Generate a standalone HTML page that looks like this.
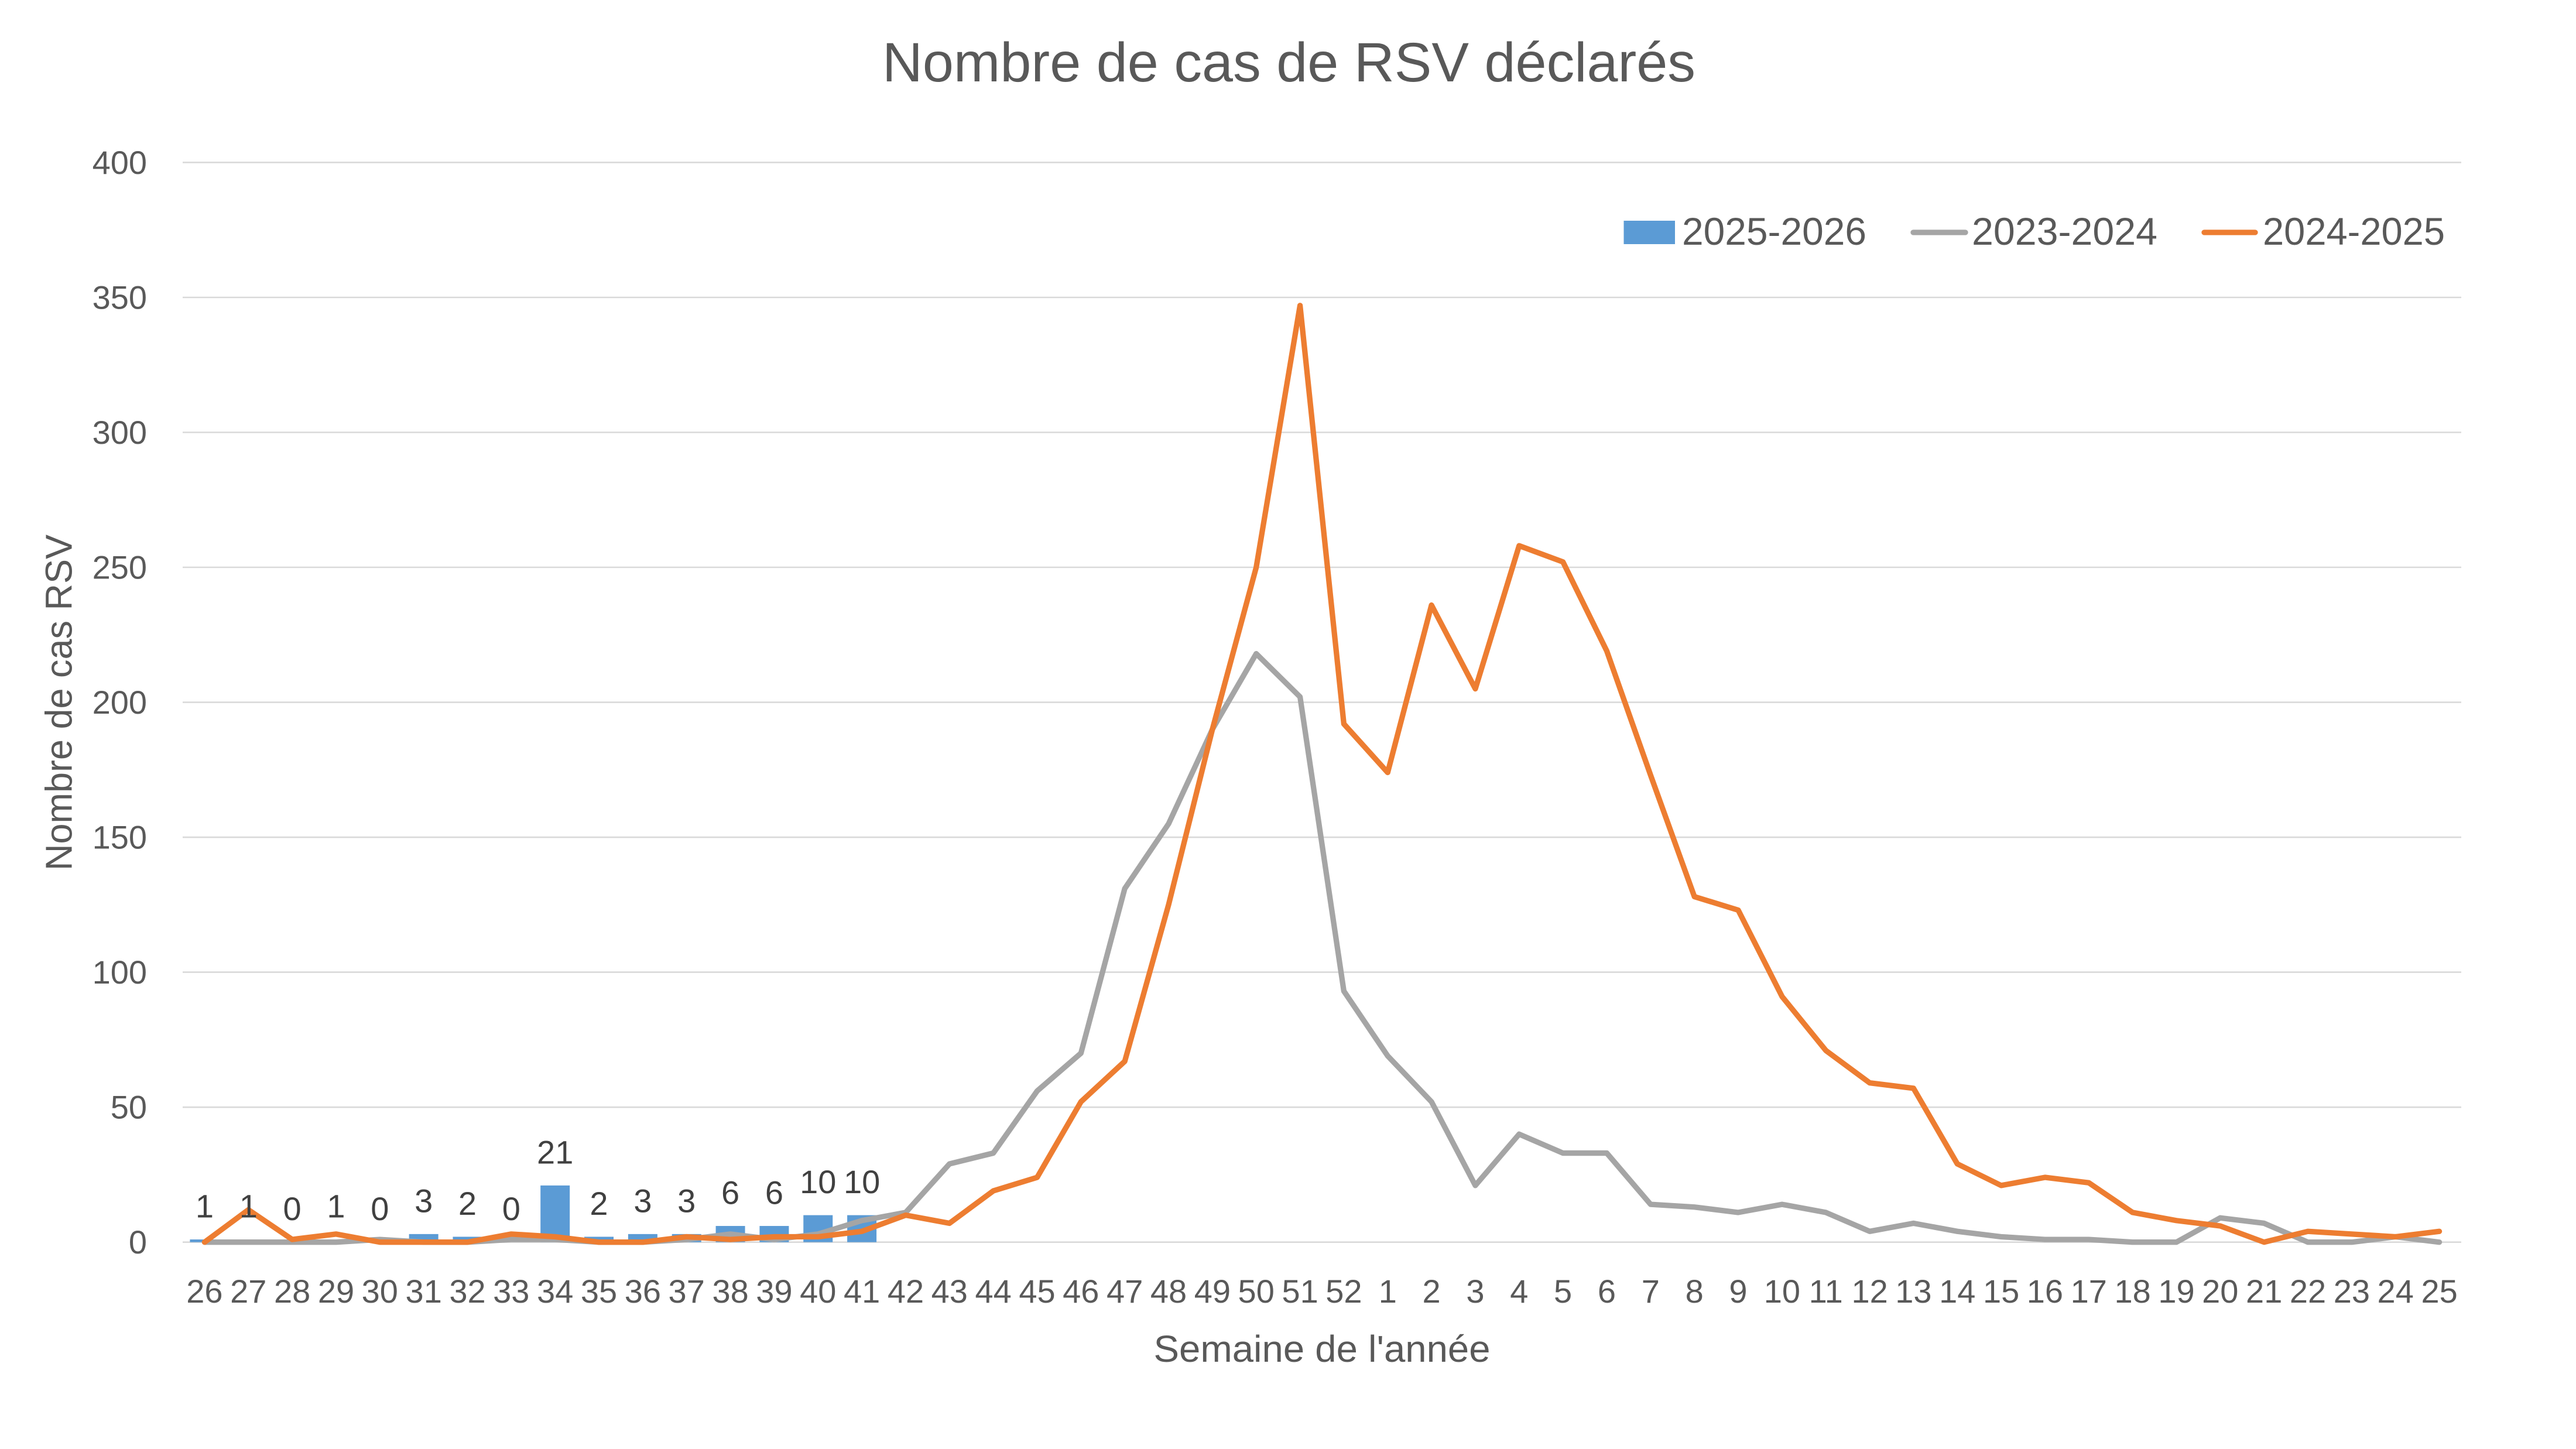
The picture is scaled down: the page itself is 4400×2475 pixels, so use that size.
<!DOCTYPE html>
<html>
<head>
<meta charset="utf-8">
<style>
  html, body { margin: 0; padding: 0; background: #ffffff; }
  svg { display: block; }
  text { font-family: "Liberation Sans", Arial, sans-serif; }
</style>
</head>
<body>
<svg width="4400" height="2475" viewBox="0 0 4400 2475" xmlns="http://www.w3.org/2000/svg">
  <rect x="0" y="0" width="4400" height="2475" fill="#ffffff"/>

  <!-- Title -->
  <text x="1507" y="139" font-size="95" fill="#595959" textLength="1389" lengthAdjust="spacingAndGlyphs">Nombre de cas de RSV déclarés</text>

  <!-- Gridlines -->
  <g stroke="#D9D9D9" stroke-width="2.6">
    <line x1="312" y1="277.4" x2="4204" y2="277.4"/>
    <line x1="312" y1="508.0" x2="4204" y2="508.0"/>
    <line x1="312" y1="738.5" x2="4204" y2="738.5"/>
    <line x1="312" y1="969.0" x2="4204" y2="969.0"/>
    <line x1="312" y1="1199.6" x2="4204" y2="1199.6"/>
    <line x1="312" y1="1430.1" x2="4204" y2="1430.1"/>
    <line x1="312" y1="1660.6" x2="4204" y2="1660.6"/>
    <line x1="312" y1="1891.2" x2="4204" y2="1891.2"/>
    <line x1="312" y1="2121.7" x2="4204" y2="2121.7"/>
  </g>

  <!-- Y tick labels -->
  <g font-size="56" fill="#595959" text-anchor="end">
    <text x="251" y="297">400</text>
    <text x="251" y="527.5">350</text>
    <text x="251" y="758">300</text>
    <text x="251" y="988.5">250</text>
    <text x="251" y="1219">200</text>
    <text x="251" y="1449.6">150</text>
    <text x="251" y="1680.1">100</text>
    <text x="251" y="1910.7">50</text>
    <text x="251" y="2141.2">0</text>
  </g>

  <!-- Y axis title -->
  <text transform="translate(122.7,1200) rotate(-90)" text-anchor="middle" font-size="64" fill="#595959" textLength="574" lengthAdjust="spacingAndGlyphs">Nombre de cas RSV</text>

  <!-- Data (scaled group): x = category index + 0.5, y = value -->
  <g transform="translate(312,2121.7) scale(74.846,-4.6106)">
    <g fill="#5B9BD5">
      <rect x="0.166" y="0" width="0.668" height="1"/>
      <rect x="1.166" y="0" width="0.668" height="1"/>
      <rect x="3.166" y="0" width="0.668" height="1"/>
      <rect x="5.166" y="0" width="0.668" height="3"/>
      <rect x="6.166" y="0" width="0.668" height="2"/>
      <rect x="8.166" y="0" width="0.668" height="21"/>
      <rect x="9.166" y="0" width="0.668" height="2"/>
      <rect x="10.166" y="0" width="0.668" height="3"/>
      <rect x="11.166" y="0" width="0.668" height="3"/>
      <rect x="12.166" y="0" width="0.668" height="6"/>
      <rect x="13.166" y="0" width="0.668" height="6"/>
      <rect x="14.166" y="0" width="0.668" height="10"/>
      <rect x="15.166" y="0" width="0.668" height="10"/>
    </g>
    <polyline fill="none" stroke="#A5A5A5" stroke-width="9.3" stroke-linejoin="round" stroke-linecap="round" vector-effect="non-scaling-stroke"
      points="0.5,0 1.5,0 2.5,0 3.5,0 4.5,1 5.5,0 6.5,0 7.5,1 8.5,1 9.5,0 10.5,0 11.5,1 12.5,3 13.5,1 14.5,3 15.5,8 16.5,11 17.5,29 18.5,33 19.5,56 20.5,70 21.5,131 22.5,155 23.5,190 24.5,218 25.5,202 26.5,93 27.5,69 28.5,52 29.5,21 30.5,40 31.5,33 32.5,33 33.5,14 34.5,13 35.5,11 36.5,14 37.5,11 38.5,4 39.5,7 40.5,4 41.5,2 42.5,1 43.5,1 44.5,0 45.5,0 46.5,9 47.5,7 48.5,0 49.5,0 50.5,2 51.5,0"/>
    <polyline fill="none" stroke="#ED7D31" stroke-width="9.3" stroke-linejoin="round" stroke-linecap="round" vector-effect="non-scaling-stroke"
      points="0.5,0 1.5,12 2.5,1 3.5,3 4.5,0 5.5,0 6.5,0 7.5,3 8.5,2 9.5,0 10.5,0 11.5,2 12.5,1 13.5,2 14.5,2 15.5,4 16.5,10 17.5,7 18.5,19 19.5,24 20.5,52 21.5,67 22.5,125 23.5,190 24.5,250 25.5,347 26.5,192 27.5,174 28.5,236 29.5,205 30.5,258 31.5,252 32.5,219 33.5,173 34.5,128 35.5,123 36.5,91 37.5,71 38.5,59 39.5,57 40.5,29 41.5,21 42.5,24 43.5,22 44.5,11 45.5,8 46.5,6 47.5,0 48.5,4 49.5,3 50.5,2 51.5,4"/>
  </g>

  <!-- Bar data labels -->
  <g font-size="56" fill="#404040" text-anchor="middle">
    <text x="349.4" y="2079.6">1</text>
    <text x="424.3" y="2079.6">1</text>
    <text x="499.1" y="2084.2">0</text>
    <text x="574.0" y="2079.6">1</text>
    <text x="648.8" y="2084.2">0</text>
    <text x="723.7" y="2070.4">3</text>
    <text x="798.5" y="2075.0">2</text>
    <text x="873.3" y="2084.2">0</text>
    <text x="948.2" y="1987.4">21</text>
    <text x="1023.0" y="2075.0">2</text>
    <text x="1097.9" y="2070.4">3</text>
    <text x="1172.7" y="2070.4">3</text>
    <text x="1247.6" y="2056.5">6</text>
    <text x="1322.4" y="2056.5">6</text>
    <text x="1397.3" y="2038.1">10</text>
    <text x="1472.1" y="2038.1">10</text>
  </g>

  <!-- X tick labels -->
  <g font-size="56" fill="#595959" text-anchor="middle">
    <text x="349.4" y="2225">26</text>
    <text x="424.3" y="2225">27</text>
    <text x="499.1" y="2225">28</text>
    <text x="574.0" y="2225">29</text>
    <text x="648.8" y="2225">30</text>
    <text x="723.7" y="2225">31</text>
    <text x="798.5" y="2225">32</text>
    <text x="873.3" y="2225">33</text>
    <text x="948.2" y="2225">34</text>
    <text x="1023.0" y="2225">35</text>
    <text x="1097.9" y="2225">36</text>
    <text x="1172.7" y="2225">37</text>
    <text x="1247.6" y="2225">38</text>
    <text x="1322.4" y="2225">39</text>
    <text x="1397.3" y="2225">40</text>
    <text x="1472.1" y="2225">41</text>
    <text x="1547.0" y="2225">42</text>
    <text x="1621.8" y="2225">43</text>
    <text x="1696.6" y="2225">44</text>
    <text x="1771.5" y="2225">45</text>
    <text x="1846.3" y="2225">46</text>
    <text x="1921.2" y="2225">47</text>
    <text x="1996.0" y="2225">48</text>
    <text x="2070.9" y="2225">49</text>
    <text x="2145.7" y="2225">50</text>
    <text x="2220.6" y="2225">51</text>
    <text x="2295.4" y="2225">52</text>
    <text x="2370.3" y="2225">1</text>
    <text x="2445.1" y="2225">2</text>
    <text x="2519.9" y="2225">3</text>
    <text x="2594.8" y="2225">4</text>
    <text x="2669.6" y="2225">5</text>
    <text x="2744.5" y="2225">6</text>
    <text x="2819.3" y="2225">7</text>
    <text x="2894.2" y="2225">8</text>
    <text x="2969.0" y="2225">9</text>
    <text x="3043.9" y="2225">10</text>
    <text x="3118.7" y="2225">11</text>
    <text x="3193.6" y="2225">12</text>
    <text x="3268.4" y="2225">13</text>
    <text x="3343.3" y="2225">14</text>
    <text x="3418.1" y="2225">15</text>
    <text x="3492.9" y="2225">16</text>
    <text x="3567.8" y="2225">17</text>
    <text x="3642.6" y="2225">18</text>
    <text x="3717.5" y="2225">19</text>
    <text x="3792.3" y="2225">20</text>
    <text x="3867.2" y="2225">21</text>
    <text x="3942.0" y="2225">22</text>
    <text x="4016.9" y="2225">23</text>
    <text x="4091.7" y="2225">24</text>
    <text x="4166.6" y="2225">25</text>
  </g>

  <!-- X axis title -->
  <text x="2258" y="2326" text-anchor="middle" font-size="64" fill="#595959" textLength="575" lengthAdjust="spacingAndGlyphs">Semaine de l'année</text>

  <!-- Legend -->
  <rect x="2773.5" y="377" width="87.5" height="40" fill="#5B9BD5"/>
  <text x="2873" y="418" font-size="66" fill="#595959" textLength="315" lengthAdjust="spacingAndGlyphs">2025-2026</text>
  <line x1="3268" y1="397" x2="3357" y2="397" stroke="#A5A5A5" stroke-width="9.3" stroke-linecap="round"/>
  <text x="3368" y="418" font-size="66" fill="#595959" textLength="317" lengthAdjust="spacingAndGlyphs">2023-2024</text>
  <line x1="3765" y1="397" x2="3852" y2="397" stroke="#ED7D31" stroke-width="9.3" stroke-linecap="round"/>
  <text x="3865" y="418" font-size="66" fill="#595959" textLength="311" lengthAdjust="spacingAndGlyphs">2024-2025</text>
</svg>
</body>
</html>
